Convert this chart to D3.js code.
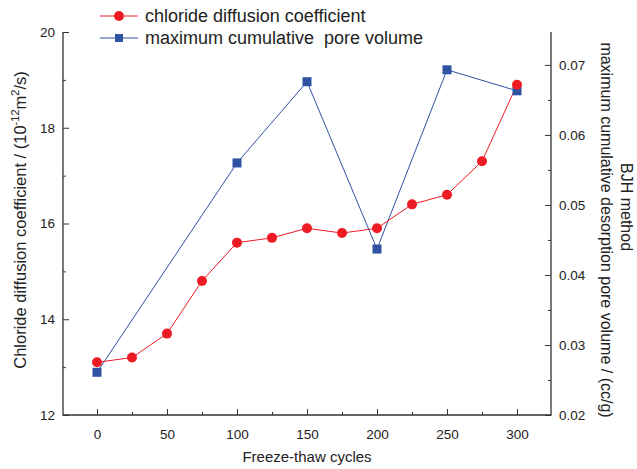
<!DOCTYPE html>
<html>
<head>
<meta charset="utf-8">
<script src="https://cdn.jsdelivr.net/npm/d3@7"></script>
<style>
body { margin: 0; background: #fff; }
svg text { font-family: "Liberation Sans", Arial, sans-serif; fill: #222; }
</style>
</head>
<body>
<svg width="637" height="469"></svg>
<script>
// data
var cycles = [0, 25, 50, 75, 100, 125, 150, 175, 200, 225, 250, 275, 300];
var chloride = [13.1, 13.2, 13.7, 14.8, 15.6, 15.7, 15.9, 15.8, 15.9, 16.4, 16.6, 17.3, 18.9];
var poreCycles = [0, 100, 150, 200, 250, 300];
var poreVolume = [0.0261, 0.0560, 0.0676, 0.0437, 0.0693, 0.0663];
var xTicks = [0, 50, 100, 150, 200, 250, 300];
var leftTicks = [12, 14, 16, 18, 20];
var rightTicks = [0.02, 0.03, 0.04, 0.05, 0.06, 0.07];

var red = "#ed1c24", blue = "#2f52a3";
var svg = d3.select("svg");
var pLeft = 63, pRight = 551, pTop = 32, pBottom = 415;

var x = d3.scaleLinear().domain([-25, 325]).range([pLeft - 1, pRight + 1]);
var yL = d3.scaleLinear().domain([12, 20]).range([pBottom, pTop]);
var yR = d3.scaleLinear().domain([0.02, 0.0747]).range([pBottom, pTop]);

// axes (ticks inward)
var xAxis = d3.axisTop(x).tickValues(xTicks).tickSize(6).tickFormat(d3.format("d"));
var xMinor = d3.axisTop(x).tickValues(d3.range(25, 325, 50)).tickSize(3).tickFormat("");
var lAxis = d3.axisRight(yL).tickValues(leftTicks).tickSize(6).tickFormat(d3.format("d"));
var lMinor = d3.axisRight(yL).tickValues([13, 15, 17, 19]).tickSize(3).tickFormat("");
var rAxis = d3.axisLeft(yR).tickValues(rightTicks).tickSize(6).tickFormat(d3.format(".2f"));
var rMinor = d3.axisLeft(yR).tickValues([0.025, 0.035, 0.045, 0.055, 0.065]).tickSize(3).tickFormat("");

function style(g, dx, dy, anchor) {
  g.select(".domain").remove();
  g.selectAll("line").attr("stroke", "#333").attr("stroke-width", 1);
  g.selectAll("text").attr("font-size", 13.5).attr("fill", "#222")
    .attr("text-anchor", anchor).attr("dx", dx).attr("dy", dy);
}

var gx = svg.append("g").attr("transform", "translate(0," + pBottom + ")").call(xAxis);
gx.selectAll("text").attr("y", 20);
style(gx, 0, "0.32em", "middle");
svg.append("g").attr("transform", "translate(0," + pBottom + ")").call(xMinor).call(style, 0, 0, "middle");

var gl = svg.append("g").attr("transform", "translate(" + pLeft + ",0)").call(lAxis);
gl.selectAll("text").attr("x", -8);
style(gl, 0, "0.32em", "end");
svg.append("g").attr("transform", "translate(" + pLeft + ",0)").call(lMinor).call(style, 0, 0, "end");

var gr = svg.append("g").attr("transform", "translate(" + pRight + ",0)").call(rAxis);
gr.selectAll("text").attr("x", 8);
style(gr, 0, "0.32em", "start");
svg.append("g").attr("transform", "translate(" + pRight + ",0)").call(rMinor).call(style, 0, 0, "start");

// frame lines
svg.append("path")
  .attr("d", "M" + pLeft + "," + pTop + "V" + pBottom + "H" + pRight + "V" + pTop)
  .attr("fill", "none").attr("stroke", "#333").attr("stroke-width", 1.3);

// blue series
var poreLine = d3.line().x(function (d, i) { return x(poreCycles[i]); }).y(function (d) { return yR(d); });
svg.append("path").datum(poreVolume).attr("d", poreLine)
  .attr("fill", "none").attr("stroke", blue).attr("stroke-width", 1);

// red series
var clLine = d3.line().x(function (d, i) { return x(cycles[i]); }).y(function (d) { return yL(d); });
svg.append("path").datum(chloride).attr("d", clLine)
  .attr("fill", "none").attr("stroke", red).attr("stroke-width", 1);

svg.selectAll(".sq").data(poreVolume).enter().append("rect")
  .attr("x", function (d, i) { return x(poreCycles[i]) - 4.5; })
  .attr("y", function (d) { return yR(d) - 4.5; })
  .attr("width", 9).attr("height", 9).attr("fill", blue);

svg.selectAll(".dot").data(chloride).enter().append("circle")
  .attr("cx", function (d, i) { return x(cycles[i]); })
  .attr("cy", function (d) { return yL(d); })
  .attr("r", 5).attr("fill", red);

// legend
var legend = [
  { name: "chloride diffusion coefficient", color: red, shape: "circle" },
  { name: "maximum cumulative  pore volume", color: blue, shape: "square" }
];
legend.forEach(function (l, i) {
  var y = 16 + i * 22;
  svg.append("line").attr("x1", 100).attr("x2", 138).attr("y1", y).attr("y2", y)
    .attr("stroke", l.color).attr("stroke-width", 1);
  if (l.shape === "circle") {
    svg.append("circle").attr("cx", 119).attr("cy", y).attr("r", 5).attr("fill", l.color);
  } else {
    svg.append("rect").attr("x", 115).attr("y", y - 4).attr("width", 8).attr("height", 8).attr("fill", l.color);
  }
  svg.append("text").attr("x", 145).attr("y", y + 6).attr("font-size", 18)
    .style("white-space", "pre").text(l.name);
});

// axis titles
svg.append("text").attr("x", 307).attr("y", 462).attr("text-anchor", "middle")
  .attr("font-size", 15).text("Freeze-thaw cycles");

var lt = svg.append("text").attr("transform", "translate(26,220) rotate(-90)")
  .attr("text-anchor", "middle").attr("font-size", 16.5);
lt.append("tspan").text("Chloride diffusion coefficient / (10");
lt.append("tspan").attr("font-size", 11).attr("dy", -7).text("-12");
lt.append("tspan").attr("dy", 7).text("m");
lt.append("tspan").attr("font-size", 11).attr("dy", -7).text("2");
lt.append("tspan").attr("dy", 7).text("/s)");

svg.append("text").attr("transform", "translate(621,207) rotate(90)")
  .attr("text-anchor", "middle").attr("font-size", 16).text("BJH method");
svg.append("text").attr("transform", "translate(601,230) rotate(90)")
  .attr("text-anchor", "middle").attr("font-size", 16)
  .text("maximum cumulative desorption pore volume / (cc/g)");
</script>
</body>
</html>
